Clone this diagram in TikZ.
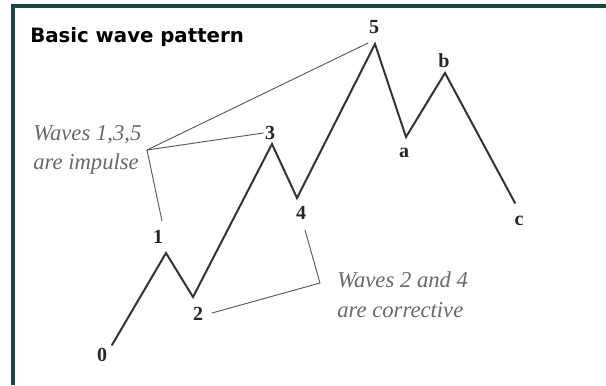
\documentclass[tikz,border=0pt]{standalone}
\usepackage{fontspec}
\newfontfamily\titlefont{DejaVu Sans}
\newfontfamily\notefont{Liberation Serif}
\usetikzlibrary{positioning}
\definecolor{framecol}{RGB}{26,70,68}
\definecolor{notegray}{RGB}{105,105,105}
\tikzset{
  every picture/.style={line join=round, line cap=round},
  wave/.style={line width=1.5pt, draw=black!80, line join=miter},
  lead/.style={line width=0.7pt, draw=black!65},
  lbl/.style={font=\notefont\bfseries\fontsize{15}{18}\selectfont, text=black!85, inner sep=0pt},
  note/.style={font=\notefont\itshape\fontsize{17}{22}\selectfont, text=notegray, align=left, inner sep=0pt, anchor=north west},
}
\begin{document}
\begin{tikzpicture}[x=0.75pt,y=-0.75pt]
\useasboundingbox (0,0) rectangle (606,385);
\draw[framecol, line width=2.7pt, line join=miter, line cap=butt] (13,385)--(13,6)--(606,6);
\node[anchor=base west, inner sep=0pt, font=\titlefont\bfseries\fontsize{14.8}{18}\selectfont] (title) at (30,43) {Basic wave pattern};
% wave points
\coordinate (p0) at (112,345);
\coordinate (p1) at (166,253);
\coordinate (p2) at (193,297);
\coordinate (p3) at (272,144);
\coordinate (p4) at (297,198);
\coordinate (p5) at (375,44);
\coordinate (pa) at (406,137);
\coordinate (pb) at (445,73);
\coordinate (pc) at (515,203);
\draw[wave](p0)--(p1)--(p2)--(p3)--(p4)--(p5)--(pa)--(pb)--(pc);
% labels
\node[lbl] (l0) at (102,355) {0};
\node[lbl] (l1) at (158,237) {1};
\node[lbl] (l2) at (198,314) {2};
\node[lbl] (l3) at (270,133) {3};
\node[lbl] (l4) at (301,213) {4};
\node[lbl] (l5) at (374,27) {5};
\node[lbl] (la) at (404,153) {a};
\node[lbl] (lb) at (444,61) {b};
\node[lbl] (lc) at (519,221) {c};
% notes
\node[note] (imp) at (33,125) {Waves 1,3,5\\are impulse};
\node[note] (cor) at (337,272) {Waves 2 and 4\\are corrective};
\coordinate (v1) at (147,150);
\coordinate (e5) at (368,43);
\coordinate (e1) at (162,221);
\coordinate (e2) at (212,313);
\coordinate (k) at (320,283);
\coordinate (e4) at (305,230);
\draw[lead](v1)--(e5);
\draw[lead](v1)--([xshift=-1pt]l3.west);
\draw[lead](v1)--(e1);
\draw[lead](e2)--(k)--(e4);
\end{tikzpicture}
\end{document}
